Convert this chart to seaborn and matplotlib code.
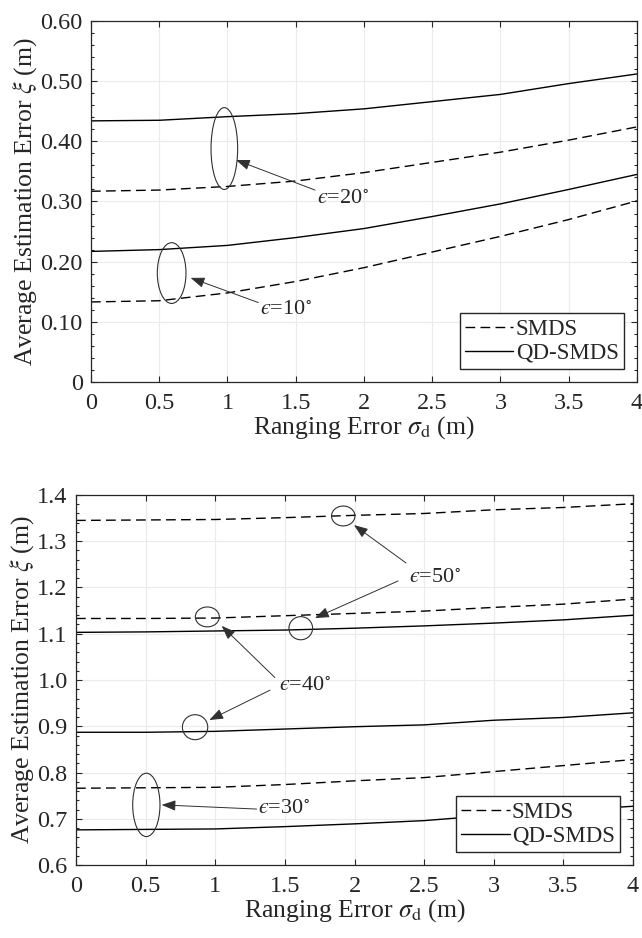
import numpy as np
import pandas as pd
import matplotlib
matplotlib.use("Agg")
import matplotlib.pyplot as plt
import seaborn as sns
from matplotlib.patches import Ellipse
from matplotlib.ticker import MultipleLocator, FixedLocator, FixedFormatter

# ---------------- data ----------------
sigma_d = [0, 0.5, 1, 1.5, 2, 2.5, 3, 3.5, 4]

# top panel
smds_10 = [0.133, 0.135, 0.148, 0.167, 0.190, 0.216, 0.242, 0.270, 0.301]
qd_10 = [0.217, 0.220, 0.227, 0.240, 0.255, 0.275, 0.296, 0.320, 0.345]
smds_20 = [0.317, 0.319, 0.325, 0.334, 0.348, 0.365, 0.382, 0.402, 0.424]
qd_20 = [0.434, 0.435, 0.441, 0.446, 0.454, 0.466, 0.478, 0.496, 0.512]

# bottom panel
smds_30 = [0.766, 0.767, 0.768, 0.774, 0.782, 0.789, 0.802, 0.815, 0.828]
qd_30 = [0.676, 0.677, 0.678, 0.683, 0.689, 0.696, 0.708, 0.718, 0.727]
smds_40 = [1.133, 1.133, 1.134, 1.139, 1.144, 1.149, 1.157, 1.164, 1.175]
qd_40 = [0.887, 0.887, 0.889, 0.894, 0.899, 0.903, 0.913, 0.919, 0.929]
smds_50 = [1.345, 1.346, 1.347, 1.351, 1.356, 1.360, 1.368, 1.373, 1.381]
qd_50 = [1.103, 1.104, 1.106, 1.108, 1.112, 1.117, 1.123, 1.130, 1.140]

legend_labels = ["SMDS", "QD-SMDS"]
x_ticks = [0, 0.5, 1, 1.5, 2, 2.5, 3, 3.5, 4]
x_ticklabels = ["0", "0.5", "1", "1.5", "2", "2.5", "3", "3.5", "4"]
top_yticks = [0, 0.1, 0.2, 0.3, 0.4, 0.5, 0.6]
top_yticklabels = ["0", "0.10", "0.20", "0.30", "0.40", "0.50", "0.60"]
bot_yticks = [0.6, 0.7, 0.8, 0.9, 1.0, 1.1, 1.2, 1.3, 1.4]
bot_yticklabels = ["0.6", "0.7", "0.8", "0.9", "1.0", "1.1", "1.2", "1.3", "1.4"]

# ---------------- style ----------------
sns.set_style("ticks")
plt.rcParams["font.family"] = ["Liberation Serif", "DejaVu Serif"]
plt.rcParams["mathtext.fontset"] = "stix"

FS_TICK = 17.5
FS_LAB = 18.5
FS_LEG = 16.5
ANN_FS = 16
DASH = (0, (7, 3.8))
LW = 1.0
TXT = "#262626"
EPS = "\u03f5"

fig = plt.figure(figsize=(6.42, 9.38), dpi=100)
ax1 = fig.add_axes([0.1417, 0.5928, 0.8505, 0.3848])
ax2 = fig.add_axes([0.1184, 0.0778, 0.8676, 0.3945])


def draw_series(ax, smds_list, qd_list):
    for s, q in zip(smds_list, qd_list):
        df = pd.DataFrame({"x": sigma_d, "s": s, "q": q})
        sns.lineplot(data=df, x="x", y="s", ax=ax, color="black", lw=LW,
                     linestyle=DASH, legend=False)
        sns.lineplot(data=df, x="x", y="q", ax=ax, color="black", lw=LW,
                     linestyle="-", legend=False)


def style_axes(ax, yticks, yticklabels, ylim):
    ax.set_xlim(0, 4)
    ax.set_ylim(*ylim)
    ax.xaxis.set_major_locator(FixedLocator(x_ticks))
    ax.xaxis.set_major_formatter(FixedFormatter(x_ticklabels))
    ax.yaxis.set_major_locator(FixedLocator(yticks))
    ax.yaxis.set_major_formatter(FixedFormatter(yticklabels))
    ax.yaxis.set_minor_locator(MultipleLocator(0.02))
    ax.tick_params(axis="both", which="both", direction="in", top=True,
                   right=True, colors="#262626", labelcolor=TXT,
                   labelsize=FS_TICK, width=0.8)
    ax.tick_params(axis="x", which="major", length=4.5, pad=8)
    ax.tick_params(axis="y", which="major", length=4.5, pad=6)
    ax.tick_params(axis="y", which="minor", length=2.5)
    ax.tick_params(axis="x", which="minor", bottom=False, top=False)
    ax.grid(True, which="major", color="#ebebeb", lw=0.8)
    ax.set_axisbelow(True)
    for sp in ax.spines.values():
        sp.set_color("#262626")
        sp.set_linewidth(0.9)
    ax.set_xlabel(r"Ranging Error $\sigma_{\rm d}$ (m)", fontsize=FS_LAB,
                  color=TXT, labelpad=0)
    ax.set_ylabel(r"Average Estimation Error $\xi$ (m)", fontsize=FS_LAB,
                  color=TXT, labelpad=1)
    lines = ax.get_lines()
    leg = ax.legend(handles=[lines[0], lines[1]], labels=legend_labels,
                    loc="lower right", fontsize=FS_LEG, frameon=True,
                    fancybox=False, framealpha=1, edgecolor="#262626",
                    handlelength=2.1, handletextpad=0.1, borderpad=0.25,
                    labelspacing=0.12, borderaxespad=0.55)
    leg.get_frame().set_linewidth(1.0)
    for t in leg.get_texts():
        t.set_color(TXT)


def ellipse(ax, cx, cy, w, h):
    ax.add_patch(Ellipse((cx, cy), w, h, fill=False, ec="#303030", lw=0.8,
                         zorder=5))


def arrow(ax, x0, y0, x1, y1):
    ax.annotate("", xy=(x1, y1), xytext=(x0, y0),
                arrowprops=dict(arrowstyle="-|>,head_length=0.85,head_width=0.32",
                                color="#303030", lw=0.7, shrinkA=0, shrinkB=0),
                zorder=6)


def label(ax, x, y, deg):
    ax.text(x, y, "$" + EPS + "$=" + deg + r"$^{\circ}$", fontsize=ANN_FS,
            color=TXT, ha="left", va="center", zorder=6)


# ---------------- top panel ----------------
draw_series(ax1, [smds_10, smds_20], [qd_10, qd_20])
style_axes(ax1, top_yticks, top_yticklabels, (0, 0.6))
ellipse(ax1, 0.977, 0.388, 0.195, 0.136)
arrow(ax1, 1.641, 0.319, 1.062, 0.369)
label(ax1, 1.656, 0.303, "20")
ellipse(ax1, 0.591, 0.181, 0.210, 0.101)
arrow(ax1, 1.226, 0.132, 0.730, 0.173)
label(ax1, 1.238, 0.119, "10")

# ---------------- bottom panel ----------------
draw_series(ax2, [smds_30, smds_40, smds_50], [qd_30, qd_40, qd_50])
style_axes(ax2, bot_yticks, bot_yticklabels, (0.6, 1.4))
# eps = 50
ellipse(ax2, 1.919, 1.3546, 0.168, 0.043)
ellipse(ax2, 1.614, 1.112, 0.170, 0.050)
arrow(ax2, 2.370, 1.253, 1.996, 1.335)
arrow(ax2, 2.312, 1.214, 1.716, 1.134)
label(ax2, 2.391, 1.2205, "50")
# eps = 40
ellipse(ax2, 0.943, 1.1364, 0.172, 0.043)
ellipse(ax2, 0.855, 0.898, 0.182, 0.054)
arrow(ax2, 1.428, 1.0054, 1.046, 1.117)
arrow(ax2, 1.393, 0.978, 0.957, 0.9135)
label(ax2, 1.458, 0.985, "40")
# eps = 30
ellipse(ax2, 0.505, 0.730, 0.196, 0.137)
arrow(ax2, 1.297, 0.721, 0.615, 0.730)
label(ax2, 1.307, 0.719, "30")

fig.savefig("out.png", dpi=100)
